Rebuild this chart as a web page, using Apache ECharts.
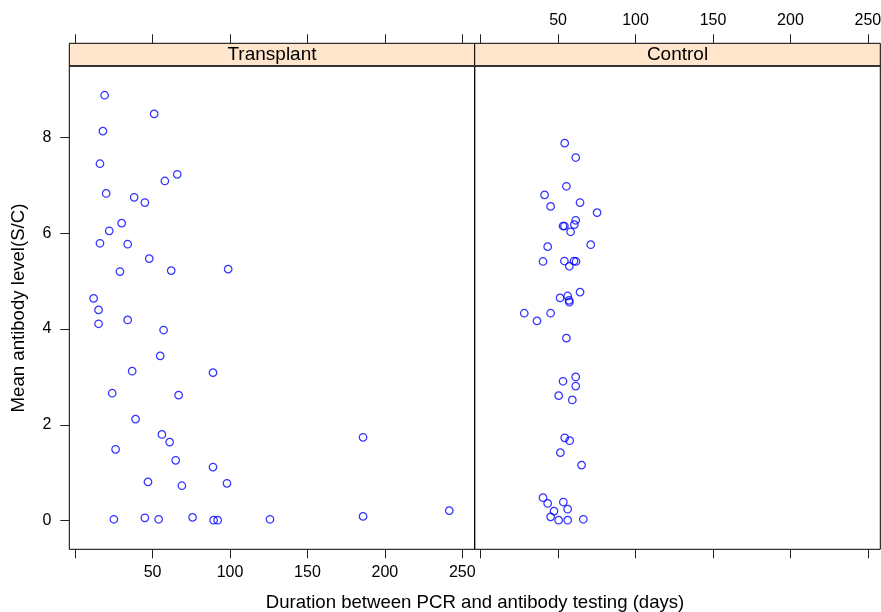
<!DOCTYPE html>
<html><head><meta charset="utf-8">
<script src="https://cdn.jsdelivr.net/npm/echarts@6/dist/echarts.min.js"></script>
<style>html,body{margin:0;padding:0;background:#fff}#c{width:881px;height:612px}</style>
</head><body><div id="c"></div>
<script>
// ---- data ----
const panels = ['Transplant', 'Control'];
const transplantX = [19.0, 51.0, 17.9, 16.0, 57.9, 65.9, 20.0, 38.1, 45.0, 30.0, 22.0, 16.0, 33.9, 47.8, 28.9, 62.0, 98.8, 11.9, 15.1, 15.1, 33.9, 57.1, 54.9, 36.8, 89.0, 23.9, 66.8, 39.0, 56.0, 61.0, 185.9, 26.1, 64.9, 89.0, 47.0, 68.9, 98.0, 25.0, 45.0, 53.9, 75.8, 89.4, 92.0, 125.8, 185.9, 241.6];
const transplantY = [8.88, 8.49, 8.13, 7.45, 7.09, 7.23, 6.83, 6.75, 6.64, 6.21, 6.05, 5.79, 5.77, 5.47, 5.20, 5.22, 5.25, 4.64, 4.40, 4.11, 4.19, 3.98, 3.44, 3.12, 3.09, 2.66, 2.62, 2.12, 1.80, 1.64, 1.74, 1.49, 1.26, 1.12, 0.81, 0.73, 0.78, 0.03, 0.06, 0.03, 0.07, 0.01, 0.01, 0.03, 0.09, 0.21];
const controlX = [54.3, 61.4, 55.4, 41.3, 64.2, 45.2, 75.2, 61.4, 60.5, 53.2, 54.1, 58.1, 43.3, 71.1, 40.3, 54.1, 60.3, 61.6, 57.3, 64.2, 56.2, 51.3, 57.1, 57.3, 28.2, 45.2, 36.4, 55.4, 61.4, 53.2, 61.4, 50.4, 59.2, 54.3, 57.5, 51.5, 65.2, 40.3, 43.3, 53.4, 56.2, 47.4, 45.2, 50.4, 56.2, 66.3];
const controlY = [7.88, 7.58, 6.98, 6.80, 6.64, 6.56, 6.43, 6.27, 6.18, 6.15, 6.15, 6.03, 5.72, 5.76, 5.41, 5.42, 5.42, 5.41, 5.31, 4.77, 4.69, 4.65, 4.60, 4.56, 4.33, 4.33, 4.17, 3.81, 3.00, 2.91, 2.81, 2.61, 2.52, 1.73, 1.67, 1.42, 1.16, 0.48, 0.36, 0.39, 0.24, 0.20, 0.08, 0.01, 0.01, 0.03];
const xTicks = [0, 50, 100, 150, 200, 250];
const xLabels = [50, 100, 150, 200, 250];
const yTicks = [0, 2, 4, 6, 8];
const xTitle = 'Duration between PCR and antibody testing (days)';
const yTitle = 'Mean antibody level(S/C)';

// ---- layout ----
const L = 69.3, M = 474.7, R = 880.3, T = 66, B = 549.3, ST = 43.3;
const XMIN = -3.8, XMAX = 258, YMIN = -0.597, YMAX = 9.49;
const FONT = '"Liberation Sans", Arial, sans-serif';

const pair = (xs, ys) => xs.map((x, i) => [x, ys[i]]);

function xAxis(grid, pos, labels, offset) {
  return {
    type: 'value', gridIndex: grid, position: pos, offset: offset || 0,
    min: XMIN, max: XMAX,
    axisLine: { show: false, onZero: false },
    splitLine: { show: false },
    axisTick: { show: true, inside: false, length: 9, customValues: xTicks, lineStyle: { color: '#222', width: 1 } },
    axisLabel: labels ? { show: true, customValues: xLabels, margin: 15, fontSize: 16, color: '#000', fontFamily: FONT } : { show: false }
  };
}

const chart = echarts.init(document.getElementById('c'), null, { renderer: 'canvas' });
const option = {
  animation: false,
  backgroundColor: '#fff',
  grid: [
    { left: L, top: T, width: M - L, height: B - T, outerBoundsMode: 'none', containLabel: false, show: true, borderColor: '#000', borderWidth: 1, backgroundColor: 'transparent' },
    { left: M, top: T, width: R - M, height: B - T, outerBoundsMode: 'none', containLabel: false, show: true, borderColor: '#000', borderWidth: 1, backgroundColor: 'transparent' }
  ],
  xAxis: [
    xAxis(0, 'bottom', true),
    xAxis(0, 'top', false, T - ST),
    xAxis(1, 'bottom', false),
    xAxis(1, 'top', true, T - ST)
  ],
  yAxis: [
    {
      type: 'value', gridIndex: 0, min: YMIN, max: YMAX, position: 'left',
      axisLine: { show: false, onZero: false }, splitLine: { show: false },
      axisTick: { show: true, length: 9, customValues: yTicks, lineStyle: { color: '#222' } },
      axisLabel: { customValues: yTicks, margin: 18, fontSize: 16, color: '#000', fontFamily: FONT }
    },
    {
      type: 'value', gridIndex: 1, min: YMIN, max: YMAX,
      axisLine: { show: false, onZero: false }, splitLine: { show: false },
      axisTick: { show: false }, axisLabel: { show: false }
    }
  ],
  series: [
    {
      type: 'scatter', xAxisIndex: 0, yAxisIndex: 0, data: pair(transplantX, transplantY),
      symbol: 'circle', symbolSize: 7.5,
      itemStyle: { color: 'rgba(0,0,0,0)', borderColor: '#0000ff', borderWidth: 1.25 },
      emphasis: { disabled: true }, silent: true
    },
    {
      type: 'scatter', xAxisIndex: 2, yAxisIndex: 1, data: pair(controlX, controlY),
      symbol: 'circle', symbolSize: 7.5,
      itemStyle: { color: 'rgba(0,0,0,0)', borderColor: '#0000ff', borderWidth: 1.25 },
      emphasis: { disabled: true }, silent: true
    }
  ],
  graphic: [
    { type: 'rect', shape: { x: L, y: ST, width: M - L, height: T - ST }, style: { fill: '#ffe5cc', stroke: '#000', lineWidth: 1 }, z: 10 },
    { type: 'rect', shape: { x: M, y: ST, width: R - M, height: T - ST }, style: { fill: '#ffe5cc', stroke: '#000', lineWidth: 1 }, z: 10 },
    { type: 'line', shape: { x1: L, y1: T, x2: R, y2: T }, style: { stroke: '#333', lineWidth: 2 }, z: 11 },
    { type: 'text', x: (L + M) / 2, y: (ST + T) / 2 + 0.5, style: { text: panels[0], fill: '#000', font: '19px ' + FONT, align: 'center', verticalAlign: 'middle' }, z: 12 },
    { type: 'text', x: (M + R) / 2, y: (ST + T) / 2 + 0.5, style: { text: panels[1], fill: '#000', font: '19px ' + FONT, align: 'center', verticalAlign: 'middle' }, z: 12 },
    { type: 'text', x: 475, y: 603, style: { text: xTitle, fill: '#000', font: '18.6px ' + FONT, align: 'center', verticalAlign: 'middle' }, z: 12 },
    { type: 'text', x: 19, y: 308, rotation: Math.PI / 2, style: { text: yTitle, fill: '#000', font: '18.6px ' + FONT, align: 'center', verticalAlign: 'middle' }, z: 12 }
  ]
};
chart.setOption(option);
</script>
</body></html>
